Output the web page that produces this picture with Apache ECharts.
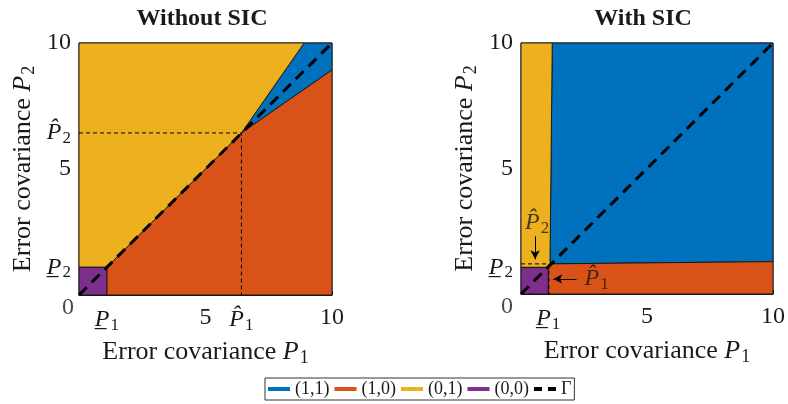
<!DOCTYPE html>
<html>
<head>
<meta charset="utf-8">
<script src="https://cdn.jsdelivr.net/npm/echarts@6/dist/echarts.min.js"></script>
<style>
  html, body { margin: 0; padding: 0; background: #fff; }
  #chart { width: 788px; height: 404px; }
</style>
</head>
<body>
<div id="chart"></div>
<script>
const font = 'Liberation Serif';
const ink = '#1a1a1a';

// legend entries and colours
const regionNames = ['(1,1)', '(1,0)', '(0,1)', '(0,0)'];
const regionColors = ['#0072BD', '#D95319', '#EDB120', '#7E2F8E'];
const gammaName = 'Γ';

// threshold values
const leftP1low = 1.1, leftP2low = 1.1, leftP1hat = 6.42, leftP2hat = 6.43;
const rightP1low = 1.08, rightP2low = 1.06, rightP1hat = 1.11, rightP2hat = 1.2;

// region polygons, without SIC (order as regionNames)
const left11 = [[6.42, 6.43], [8.9, 10], [10, 10], [10, 8.93]];
const left10 = [[1.1, 0], [10, 0], [10, 8.93], [6.42, 6.43], [1.1, 1.1]];
const left01 = [[0, 1.1], [1.1, 1.1], [6.42, 6.43], [8.9, 10], [0, 10]];
const left00 = [[0, 0], [1.1, 0], [1.1, 1.1], [0, 1.1]];

// region polygons, with SIC
const right11 = [[1.15, 1.2], [10, 1.29], [10, 10], [1.24, 10]];
const right10 = [[1.08, 0], [10, 0], [10, 1.29], [1.15, 1.2], [1.08, 1.06]];
const right01 = [[0, 1.06], [1.08, 1.06], [1.15, 1.2], [1.24, 10], [0, 10]];
const right00 = [[0, 0], [1.08, 0], [1.08, 1.06], [0, 1.06]];

// tick values and labels
const leftXTicks = [leftP1low, 5, leftP1hat, 10];
const leftXLabels = ['{u|P̲}{s|1}', '5', '{u|P̂}{s|1}', '10'];
const leftYTicks = [leftP2low, 5, leftP2hat, 10];
const leftYLabels = ['{u|P̲}{s|2}', '5', '{u|P̂}{s|2}', '10'];
const rightXTicks = [rightP1low, 5, 10];
const rightXLabels = ['{u|P̲}{s|1}', '5', '10'];
const rightYTicks = [rightP2low, 5, 10];
const rightYLabels = ['{u|P̲}{s|2}', '5', '10'];

const rich = {
  u: { fontFamily: font, fontStyle: 'italic', fontSize: 24, color: ink },
  s: { fontFamily: font, fontSize: 17, color: ink, verticalAlign: 'bottom', padding: [11, 0, 0, 1] }
};
const nameRich = {
  i: { fontFamily: font, fontStyle: 'italic', fontSize: 26, color: ink },
  s: { fontFamily: font, fontSize: 18, color: ink, verticalAlign: 'bottom', padding: [12, 0, 0, 1] }
};

function labeler(vals, labels) {
  return function (v) {
    const i = vals.findIndex(t => Math.abs(t - v) < 1e-6);
    return i >= 0 ? labels[i] : '';
  };
}

function makeX(idx, ticks, labels) {
  return {
    type: 'value', gridIndex: idx, min: 0, max: 10,
    name: 'Error covariance {i|P}{s|1}', nameLocation: 'middle', nameGap: 42,
    nameTextStyle: { fontFamily: font, fontSize: 26, color: ink, rich: nameRich },
    splitLine: { show: false },
    axisLine: { show: true, onZero: false, lineStyle: { color: ink, width: 1 } },
    axisTick: { show: true, inside: true, length: 4, customValues: ticks, lineStyle: { color: ink } },
    axisLabel: { customValues: ticks, formatter: labeler(ticks, labels), margin: 11,
      fontFamily: font, fontSize: 24, color: ink, rich: rich }
  };
}

function makeY(idx, ticks, labels) {
  return {
    type: 'value', gridIndex: idx, min: 0, max: 10,
    name: 'Error covariance {i|P}{s|2}', nameLocation: 'middle', nameGap: 41, nameRotate: 90,
    nameTextStyle: { fontFamily: font, fontSize: 26, color: ink, rich: nameRich },
    splitLine: { show: false },
    axisLine: { show: true, onZero: false, lineStyle: { color: ink, width: 1 } },
    axisTick: { show: true, inside: true, length: 4, customValues: ticks, lineStyle: { color: ink } },
    axisLabel: { customValues: ticks, formatter: labeler(ticks, labels), margin: 8,
      fontFamily: font, fontSize: 24, color: ink, rich: rich }
  };
}

function region(name, color, poly, idx) {
  return {
    type: 'custom', name: name, xAxisIndex: idx, yAxisIndex: idx,
    data: [0], z: 2, silent: true,
    itemStyle: { color: color },
    renderItem: function (params, api) {
      return {
        type: 'polygon',
        shape: { points: poly.map(p => api.coord(p)) },
        style: { fill: color, stroke: '#111', lineWidth: 0.9 }
      };
    }
  };
}

function diagonal(idx) {
  return {
    type: 'line', name: gammaName, xAxisIndex: idx, yAxisIndex: idx,
    data: [[0, 0], [10, 10]], symbol: 'none', z: 5, silent: true,
    itemStyle: { color: '#000' },
    lineStyle: { color: '#000', width: 3, type: [11, 7] }
  };
}

function hatLines(idx, px, py) {
  return {
    type: 'line', xAxisIndex: idx, yAxisIndex: idx, symbol: 'none', z: 4, silent: true,
    data: [[0, py], [px, py], [px, 0]],
    lineStyle: { color: '#000', width: 1, type: [4, 3] }
  };
}

function zeroLabel(idx, off) {
  return {
    type: 'scatter', xAxisIndex: idx, yAxisIndex: idx, data: [[0, 0]], symbolSize: 0, z: 6, silent: true,
    label: { show: true, formatter: '0', position: 'inside', offset: off,
      fontFamily: font, fontSize: 24, color: ink }
  };
}

const leftPolys = [left11, left10, left01, left00];
const rightPolys = [right11, right10, right01, right00];

const series = [];
regionNames.forEach((n, i) => series.push(region(n, regionColors[i], leftPolys[i], 0)));
regionNames.forEach((n, i) => series.push(region(n, regionColors[i], rightPolys[i], 1)));
series.push(hatLines(0, leftP1hat, leftP2hat));
series.push(hatLines(1, rightP1hat, rightP2hat));
series.push(diagonal(0));
series.push(diagonal(1));
series.push(zeroLabel(0, [-11, 13]));
series.push(zeroLabel(1, [-14, 13]));

// annotations in the SIC panel
series.push({
  type: 'scatter', xAxisIndex: 1, yAxisIndex: 1, symbolSize: 0, z: 6, silent: true,
  data: [[0.64, 2.83, '{u|P̂}{s|2}'], [3.0, 0.6, '{u|P̂}{s|1}']],
  label: { show: true, position: 'inside', formatter: p => p.value[2],
    fontFamily: font, fontSize: 24, color: ink, rich: rich },
  markLine: {
    silent: true, symbol: ['none', 'arrow'], symbolSize: [7, 9],
    label: { show: false },
    lineStyle: { color: '#000', width: 1, type: 'solid' },
    data: [
      [{ coord: [0.56, 2.3] }, { coord: [0.56, 1.38] }],
      [{ coord: [2.2, 0.6] }, { coord: [1.28, 0.6] }]
    ]
  }
});

const chart = echarts.init(document.getElementById('chart'), null, { renderer: 'canvas' });
chart.setOption({
  backgroundColor: '#fff',
  animation: false,
  title: [
    { text: 'Without SIC', left: 197, top: 2, textAlign: 'center',
      textStyle: { fontFamily: font, fontSize: 24, fontWeight: 'bold', color: ink } },
    { text: 'With SIC', left: 638, top: 2, textAlign: 'center',
      textStyle: { fontFamily: font, fontSize: 24, fontWeight: 'bold', color: ink } }
  ],
  grid: [
    { left: 79, top: 43, width: 253, height: 252, show: true, borderColor: ink, borderWidth: 1 },
    { left: 521, top: 43, width: 252, height: 251, show: true, borderColor: ink, borderWidth: 1 }
  ],
  xAxis: [makeX(0, leftXTicks, leftXLabels), makeX(1, rightXTicks, rightXLabels)],
  yAxis: [makeY(0, leftYTicks, leftYLabels), makeY(1, rightYTicks, rightYLabels)],
  legend: {
    left: 265, top: 378, padding: [2, 3], itemGap: 5, itemWidth: 22, itemHeight: 4,
    borderColor: '#333', borderWidth: 1, selectedMode: false,
    textStyle: { fontFamily: font, fontSize: 18, color: ink },
    data: regionNames.map((n, i) => ({ name: n, icon: 'rect', itemStyle: { color: regionColors[i] } }))
      .concat([{ name: gammaName, icon: 'path://M0,0h8v4h-8zM14,0h8v4h-8z', itemStyle: { color: '#000' }, lineStyle: { width: 0 } }])
  },
  series: series
});
</script>
</body>
</html>
